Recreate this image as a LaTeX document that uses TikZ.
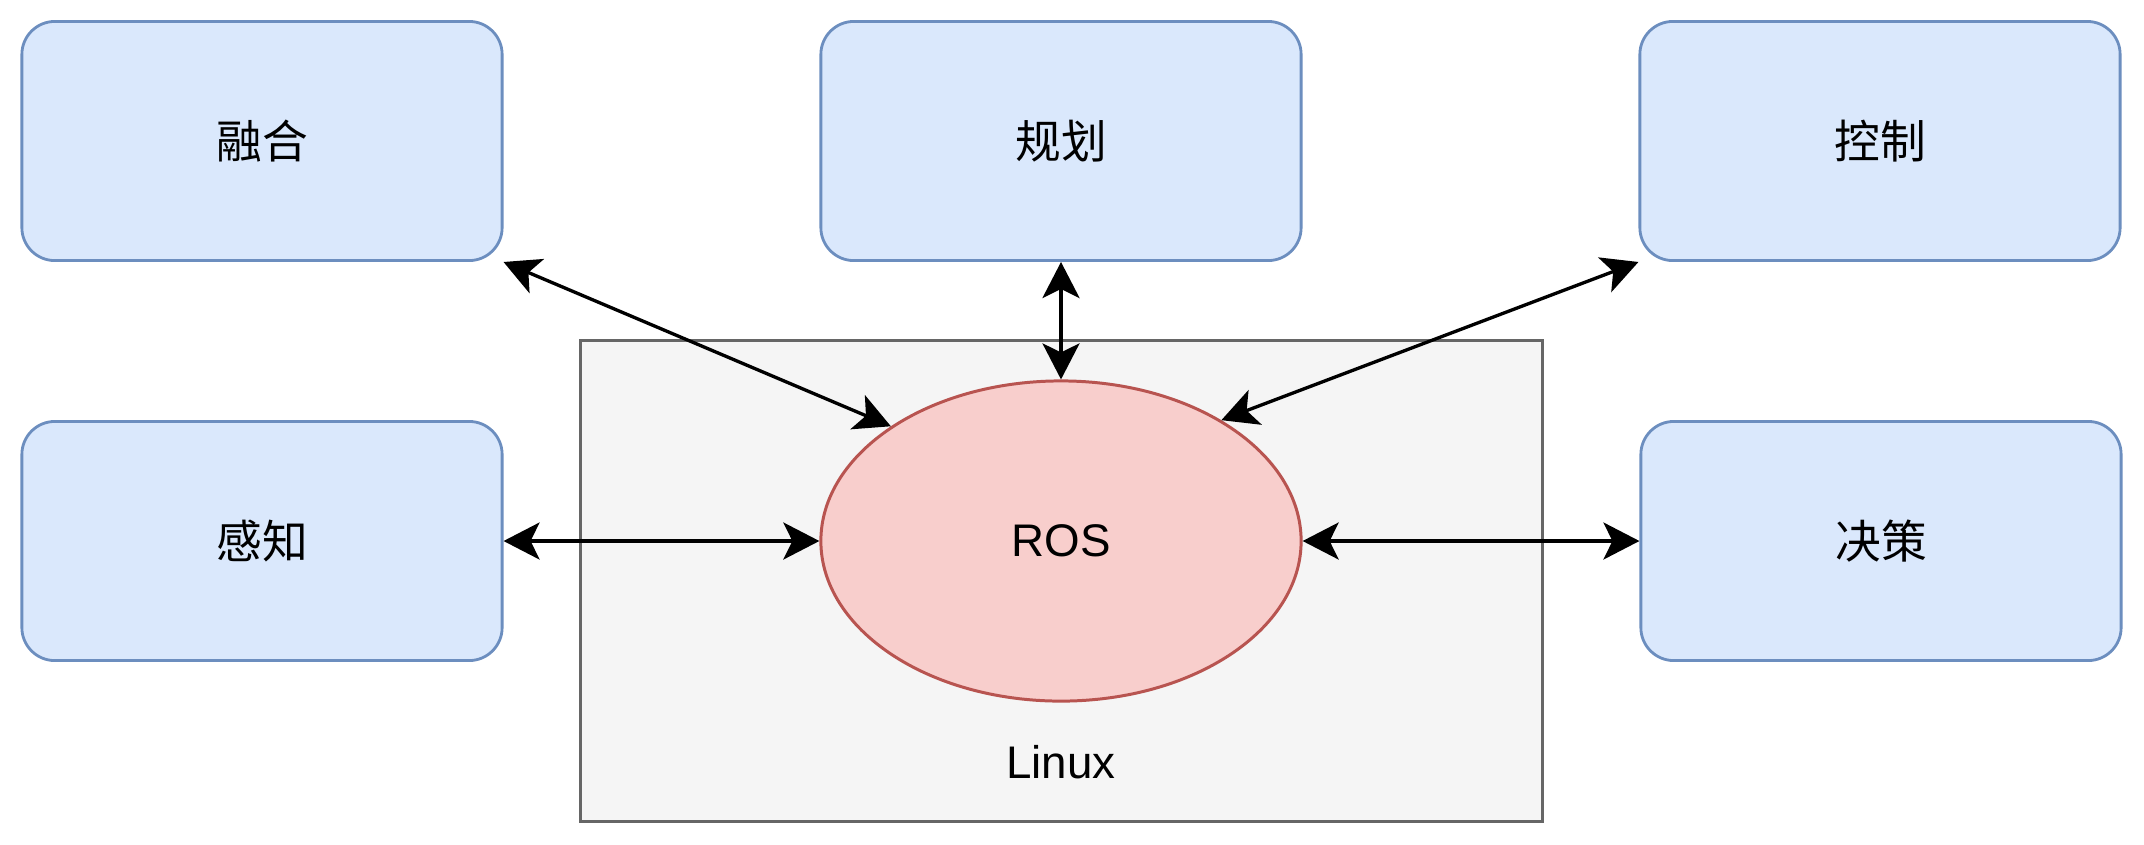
\documentclass[tikz,border=0pt]{standalone}
\usepackage{fontspec}
\setmainfont{Liberation Sans}
\newfontfamily\cjk{Noto Sans CJK SC}
\usepackage{xcolor}
\usetikzlibrary{arrows.meta,shapes.geometric}
\definecolor{modfill}{HTML}{DAE8FC}
\definecolor{moddraw}{HTML}{6C8EBF}
\definecolor{rosfill}{HTML}{F8CECC}
\definecolor{rosdraw}{HTML}{B85450}
\definecolor{osfill}{HTML}{F5F5F5}
\definecolor{osdraw}{HTML}{666666}

\begin{document}
\begin{tikzpicture}[x=0.01cm, y=-0.01cm,
    modbox/.style={draw=moddraw, fill=modfill, line width=0.8pt, rounded corners=0.33cm,
        minimum width=4.8cm, minimum height=2.39cm, font=\fontsize{13}{15}\selectfont\cjk},
    osbox/.style={draw=osdraw, fill=osfill, line width=0.85pt, minimum width=9.61cm, minimum height=4.81cm},
    rosnode/.style={ellipse, draw=rosdraw, fill=rosfill, line width=0.85pt, inner sep=0pt,
        minimum width=4.8cm, minimum height=3.2cm, font=\fontsize{13}{15}\selectfont},
    link/.style={line width=0.95pt, {Stealth[length=0.36cm, width=0.37cm, inset=0.09cm]}-{Stealth[length=0.36cm, width=0.37cm, inset=0.09cm]}}]
    \useasboundingbox (0,0) rectangle (2144,844);

    % Linux layer with ROS in the middle
    \node[osbox] (linux) at (1061.5,581) {};
    \node[font=\fontsize{13}{15}\selectfont] (linuxlabel) at (1061,762) {Linux};
    \node[rosnode] (ros) at (1061,541) {ROS};

    % Modules
    \node[modbox] (fuse) at (262,141) {融合};
    \node[modbox] (plan) at (1061,141) {规划};
    \node[modbox] (ctrl) at (1880,141) {控制};
    \node[modbox] (perc) at (262,541) {感知};
    \node[modbox] (dec) at (1881,541) {决策};

    % Links to ROS
    \draw[link] (fuse.south east) -- (ros.146);
    \draw[link] (plan.south) -- (ros.north);
    \draw[link] (ctrl.south west) -- (ros.37);
    \draw[link] (perc.east) -- (ros.west);
    \draw[link] (ros.east) -- (dec.west);
\end{tikzpicture}
\end{document}
